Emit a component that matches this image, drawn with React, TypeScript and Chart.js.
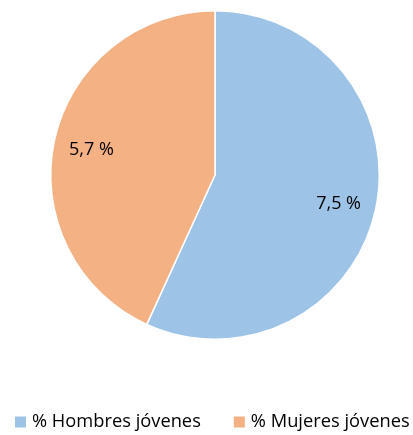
import React, { useEffect, useRef } from "react";
import { Chart, registerables } from "chart.js";

Chart.register(...registerables);

const categories = ["% Hombres jóvenes", "% Mujeres jóvenes"];
const values = [7.5, 5.7];
const valueLabels = ["7,5 %", "5,7 %"];
const colors = ["#9DC3E6", "#F4B183"];

const FONT = "'Open Sans', sans-serif";

const labelPlugin = {
  id: "sliceLabels",
  afterDatasetsDraw(chart: any) {
    const ctx = chart.ctx;
    const meta = chart.getDatasetMeta(0);
    ctx.save();
    ctx.font = `18px ${FONT}`;
    ctx.fillStyle = "#000000";
    ctx.textAlign = "center";
    ctx.textBaseline = "middle";
    meta.data.forEach((arc: any, i: number) => {
      const p = arc.getProps(["x", "y", "startAngle", "endAngle", "outerRadius"], true);
      const mid = (p.startAngle + p.endAngle) / 2;
      const r = p.outerRadius * 0.77;
      ctx.fillText(valueLabels[i], p.x + Math.cos(mid) * r, p.y + Math.sin(mid) * r + 2);
    });
    ctx.restore();
  },
};

const legendPlugin = {
  id: "customLegend",
  afterDraw(chart: any) {
    const ctx = chart.ctx;
    ctx.save();
    ctx.font = `18.3px ${FONT}`;
    ctx.textBaseline = "middle";
    ctx.textAlign = "left";
    const y = 422;
    let x = 15;
    const box = 11;
    chart.data.labels.forEach((lab: string, i: number) => {
      ctx.fillStyle = chart.data.datasets[0].backgroundColor[i];
      ctx.fillRect(x, y - box / 2, box, box);
      x += box + 6;
      ctx.fillStyle = "#000000";
      ctx.fillText(lab, x, y);
      x += ctx.measureText(lab).width + 33;
    });
    ctx.restore();
  },
};

export default function App() {
  const ref = useRef<HTMLCanvasElement>(null);
  useEffect(() => {
    document.body.style.margin = "0";
    const chart = new Chart(ref.current as HTMLCanvasElement, {
      type: "pie",
      data: {
        labels: categories,
        datasets: [
          {
            data: values,
            backgroundColor: colors,
            borderColor: "#ffffff",
            borderWidth: 1.5,
          },
        ],
      },
      options: {
        responsive: false,
        animation: false,
        devicePixelRatio: 1,
        layout: { padding: { left: 17, right: 0, top: 10, bottom: 95 } },
        plugins: {
          legend: { display: false },
          tooltip: { enabled: false },
        },
      },
      plugins: [labelPlugin, legendPlugin],
    });
    return () => chart.destroy();
  }, []);
  return (
    <div style={{ width: 413, height: 435, background: "#fff" }}>
      <canvas ref={ref} width={413} height={435} />
    </div>
  );
}
